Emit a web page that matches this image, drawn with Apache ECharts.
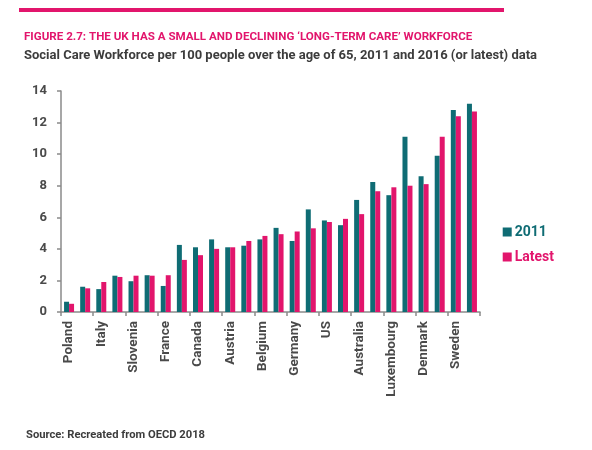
<!DOCTYPE html>
<html>
<head>
<meta charset="utf-8">
<script src="https://cdn.jsdelivr.net/npm/echarts@6/dist/echarts.min.js"></script>
<style>
  html, body { margin: 0; padding: 0; background: #fff; }
  #chart { width: 592px; height: 450px; }
</style>
</head>
<body>
<div id="chart"></div>
<script>
// every other country is labelled in the original; the rest are unnamed
const countries = [
  "Poland", "Portugal", "Italy", "Spain", "Slovenia", "Korea", "France", "UK",
  "Canada", "Japan", "Austria", "Israel", "Belgium", "Czech Republic", "Germany",
  "Finland", "US", "Switzerland", "Australia", "Iceland", "Luxembourg", "Netherlands",
  "Denmark", "Norway", "Sweden", "Estonia"
];
const values2011 = [
  0.65, 1.6, 1.45, 2.3, 1.95, 2.33, 1.65, 4.25, 4.1, 4.6, 4.1, 4.2, 4.6,
  5.33, 4.5, 6.5, 5.8, 5.5, 7.1, 8.24, 7.4, 11.1, 8.6, 9.9, 12.8, 13.2
];
const valuesLatest = [
  0.52, 1.5, 1.9, 2.22, 2.3, 2.3, 2.33, 3.3, 3.6, 4.0, 4.1, 4.5, 4.82,
  4.93, 5.1, 5.3, 5.7, 5.9, 6.2, 7.65, 7.9, 8.0, 8.1, 11.1, 12.4, 12.7
];
const yTicks = [0, 2, 4, 6, 8, 10, 12, 14];

const teal = "#0f6c74";
const pink = "#e2156c";
const font = "Roboto";

const chart = echarts.init(document.getElementById("chart"));
chart.setOption({
  animation: false,
  textStyle: { fontFamily: font },
  graphic: [
    { type: "rect", shape: { x: 19, y: 8, width: 485, height: 4 }, style: { fill: pink } }
  ],
  title: [
    {
      text: "FIGURE 2.7: THE UK HAS A SMALL AND DECLINING \u2018LONG-TERM CARE\u2019 WORKFORCE",
      left: 19, top: 26,
      textStyle: { color: pink, fontSize: 11.6, fontWeight: "bold", fontFamily: font }
    },
    {
      text: "Social Care Workforce per 100 people over the age of 65, 2011 and 2016 (or latest) data",
      left: 19, top: 44,
      textStyle: { color: "#3c3c3c", fontSize: 13, fontWeight: "bold", fontFamily: font }
    },
    {
      text: "Source: Recreated from OECD 2018",
      left: 21, top: 425,
      textStyle: { color: "#3c3c3c", fontSize: 11.2, fontWeight: "bold", fontFamily: font }
    }
  ],
  legend: {
    orient: "vertical",
    right: 33, top: 220,
    itemWidth: 9, itemHeight: 9, itemGap: 11,
    icon: "rect",
    data: [
      { name: "2011", textStyle: { color: teal } },
      { name: "Latest", textStyle: { color: pink } }
    ],
    textStyle: { fontSize: 14, fontWeight: "bold", fontFamily: font, padding: [0, 0, 0, -2] }
  },
  grid: { left: 61, right: 112, top: 91, bottom: 138 },
  xAxis: {
    type: "category",
    data: countries,
    axisLine: { lineStyle: { color: "#8a8a8a", width: 1.5 } },
    axisTick: { show: true, length: 4, lineStyle: { color: "#8a8a8a", width: 1.5 } },
    axisLabel: {
      interval: 1, rotate: 90, margin: 9,
      color: "#4a4a4a", fontSize: 13.5, fontWeight: "bold", fontFamily: font
    }
  },
  yAxis: {
    type: "value",
    min: yTicks[0], max: yTicks[yTicks.length - 1], interval: 2,
    splitLine: { show: false },
    axisLine: { show: true, lineStyle: { color: "#8a8a8a", width: 1.5 } },
    axisTick: { show: true, length: 4, lineStyle: { color: "#8a8a8a", width: 1.5 } },
    axisLabel: { margin: 14, color: "#4a4a4a", fontSize: 13, fontWeight: "bold", fontFamily: font }
  },
  series: [
    {
      name: "2011", type: "bar", data: values2011,
      barWidth: 5, barGap: "0%",
      itemStyle: { color: teal }
    },
    {
      name: "Latest", type: "bar", data: valuesLatest,
      barWidth: 5, barGap: "0%",
      itemStyle: { color: pink }
    }
  ]
});
</script>
</body>
</html>
